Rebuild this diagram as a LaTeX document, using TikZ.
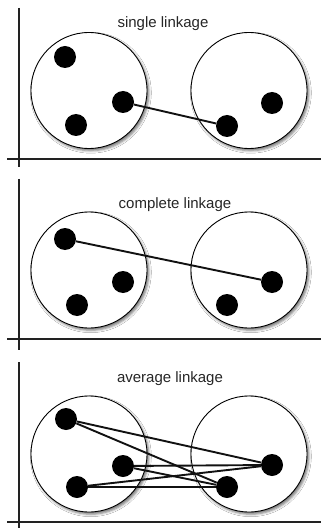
\documentclass[tikz,border=0pt]{standalone}
\usepackage{fontspec}
\setmainfont{Liberation Sans}
\usetikzlibrary{shadows.blur}
\definecolor{ink}{HTML}{111111}
\definecolor{axisgray}{HTML}{222222}

\begin{document}
\begin{tikzpicture}[x=1bp,y=-1bp,
  cluster/.style={circle, draw=black, line width=0.9bp, fill=white,
    minimum size=116bp, inner sep=0pt,
    blur shadow={shadow xshift=1.8bp, shadow yshift=-2.2bp,
      shadow blur radius=2.5bp, shadow opacity=55}},
  point/.style={circle, fill=black, minimum size=22bp, inner sep=0pt},
  link/.style={draw=ink, line width=1.9bp},
  axis/.style={draw=axisgray, line width=1.6bp},
  title/.style={anchor=base, inner sep=0pt,
    font=\fontsize{15bp}{18bp}\selectfont, text=black!85}]

\useasboundingbox (0,0) rectangle (321,528);
\fill[white] (0,0) rectangle (321,528);

% ---------- single linkage ----------
\coordinate (v1t) at (19,8);   \coordinate (v1b) at (19,167);
\coordinate (h1l) at (7,159);  \coordinate (h1r) at (321,159);
\draw[axis] (v1t) -- (v1b);
\draw[axis] (h1l) -- (h1r);
\node[title] (t1) at (163,28) {single linkage};
\node[cluster] (L1) at (89,90.5) {};
\node[cluster] (R1) at (249,90.5) {};
\node[point] (p11) at (65,57) {};
\node[point] (p12) at (123,102) {};
\node[point] (p13) at (76,125) {};
\node[point] (q11) at (227,126) {};
\node[point] (q12) at (272,103) {};
\draw[link] (p12) -- (q11);

% ---------- complete linkage ----------
\coordinate (v2t) at (19,179); \coordinate (v2b) at (19,350);
\coordinate (h2l) at (7,339);  \coordinate (h2r) at (321,339);
\draw[axis] (v2t) -- (v2b);
\draw[axis] (h2l) -- (h2r);
\node[title] (t2) at (175,209) {complete linkage};
\node[cluster] (L2) at (89,270) {};
\node[cluster] (R2) at (249,270) {};
\node[point] (p21) at (65,239) {};
\node[point] (p22) at (123,282) {};
\node[point] (p23) at (77,305) {};
\node[point] (q21) at (227,305) {};
\node[point] (q22) at (272,282) {};
\draw[link] (p21) -- (q22);

% ---------- average linkage ----------
\coordinate (v3t) at (19,362); \coordinate (v3b) at (19,528);
\coordinate (h3l) at (7,522);  \coordinate (h3r) at (321,522);
\draw[axis] (v3t) -- (v3b);
\draw[axis] (h3l) -- (h3r);
\node[title] (t3) at (170,382) {average linkage};
\node[cluster] (L3) at (89,454) {};
\node[cluster] (R3) at (249,454) {};
\node[point] (p31) at (66,419) {};
\node[point] (p32) at (123,466) {};
\node[point] (p33) at (77,487) {};
\node[point] (q31) at (227,487) {};
\node[point] (q32) at (272,465) {};
\foreach \a in {p31,p32,p33}
  \foreach \b in {q31,q32}
    \draw[link] (\a) -- (\b);
\end{tikzpicture}
\end{document}
